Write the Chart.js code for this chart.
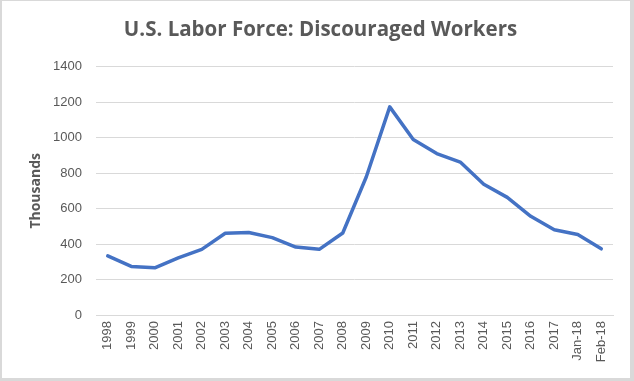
<!DOCTYPE html>
<html>
<head>
<meta charset="utf-8">
<script src="https://cdn.jsdelivr.net/npm/chart.js@4/dist/chart.umd.min.js"></script>
<style>
html,body{margin:0;padding:0;background:#fff;}
#wrap{position:relative;width:634px;height:381px;}
#frame{position:absolute;left:0;top:0;width:634px;height:381px;box-sizing:border-box;border-style:solid;border-color:#d9d9d9;border-width:1px 4px 3px 2px;pointer-events:none;}
</style>
</head>
<body>
<div id="wrap"><canvas id="c" width="634" height="381"></canvas><div id="frame"></div></div>
<script>
const categories = ["1998","1999","2000","2001","2002","2003","2004","2005","2006","2007","2008","2009","2010","2011","2012","2013","2014","2015","2016","2017","Jan-18","Feb-18"];
const discouraged = [333, 274, 266, 322, 370, 461, 465, 436, 383, 370, 462, 778, 1173, 989, 910, 862, 737, 663, 556, 480, 454, 373];
const yTicks = [0, 200, 400, 600, 800, 1000, 1200, 1400];
const titleText = "U.S. Labor Force: Discouraged Workers";
const yTitle = "Thousands";

const gray = "#595959";
const grid = "#d9d9d9";

new Chart(document.getElementById("c"), {
  type: "line",
  data: {
    labels: categories,
    datasets: [{
      label: "Discouraged Workers",
      data: discouraged,
      borderColor: "#4472C4",
      backgroundColor: "#4472C4",
      borderWidth: 3.5,
      pointRadius: 0,
      tension: 0,
      fill: false,
      borderJoinStyle: "round",
      borderCapStyle: "round"
    }]
  },
  options: {
    responsive: false,
    animation: false,
    layout: { padding: { top: 4, left: 28, right: 21, bottom: 6 } },
    plugins: {
      legend: { display: false },
      tooltip: { enabled: false },
      title: {
        display: true,
        text: titleText,
        color: gray,
        font: { family: "'Open Sans', sans-serif", size: 20.5, weight: "bold" },
        padding: { top: 14, bottom: 24 }
      }
    },
    scales: {
      x: {
        offset: true,
        grid: { display: false, drawTicks: false },
        border: { display: true, color: grid, width: 1 },
        ticks: {
          color: gray,
          font: { family: "'Liberation Sans', Arial, sans-serif", size: 13 },
          minRotation: 90, maxRotation: 90, autoSkip: false, padding: 6
        },
        afterFit: (s) => { s.height = 60; }
      },
      y: {
        min: 0, max: 1400,
        afterBuildTicks: (s) => { s.ticks = yTicks.map(v => ({ value: v })); },
        grid: { color: grid, lineWidth: 1, drawTicks: false },
        border: { display: false },
        ticks: {
          color: gray,
          font: { family: "'Liberation Sans', Arial, sans-serif", size: 13 },
          padding: 14,
          callback: (v) => String(v)
        },
        title: {
          display: true,
          text: yTitle,
          color: gray,
          font: { family: "'Open Sans', sans-serif", size: 14, weight: "bold" },
          padding: { top: 0, bottom: 8 }
        },
        afterFit: (s) => { s.width = 68; }
      }
    }
  }
});
</script>
</body>
</html>
